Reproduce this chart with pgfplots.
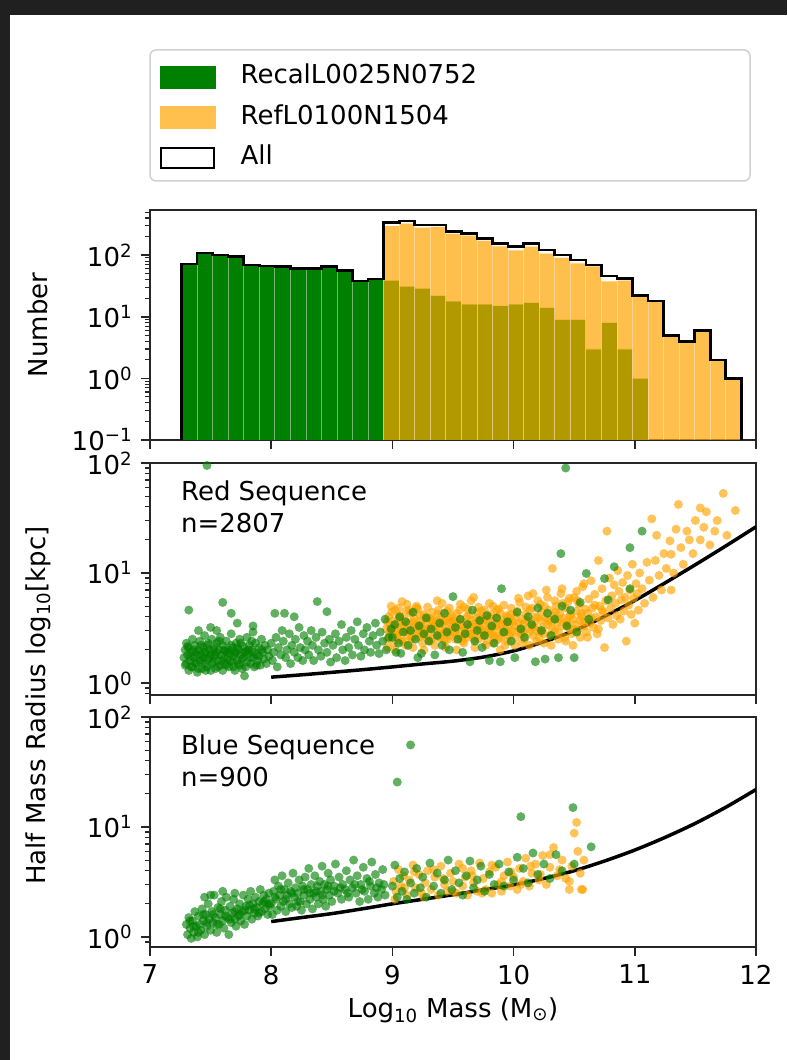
\documentclass[border=0pt]{standalone}
\usepackage{fontspec}
\setmainfont{DejaVu Sans}
\usepackage{pgfplots}
\pgfplotsset{compat=1.18}
\definecolor{mplgreen}{RGB}{0,128,0}
\definecolor{mplorange}{RGB}{255,165,0}
\definecolor{legorange}{RGB}{255,192,77}
\definecolor{bgdark}{RGB}{32,32,32}
\newcommand{\fs}{\fontsize{26}{32}\selectfont}
\pgfplotsset{
  every axis/.append style={
    scale only axis, width=606pt, xmin=7, xmax=12, ymode=log, log origin y=infty,
    xtick={7,8,9,10,11,12}, tick align=outside, xtick pos=bottom, ytick pos=left,
    axis line style={line width=1.6pt, black!85},
    major tick length=9pt, minor tick length=5pt,
    tick style={black!85}, major tick style={line width=1.6pt}, minor tick style={line width=1.1pt},
    tick label style={font=\fs}, label style={font=\fs},
    anchor=south west,
  },
  gdots/.style={only marks, color=mplgreen, mark=*, mark size=4.5pt, mark options={solid, fill=mplgreen, draw opacity=0, fill opacity=0.62}},
  odots/.style={only marks, color=mplorange, mark=*, mark size=4.5pt, mark options={solid, fill=mplorange, draw opacity=0, fill opacity=0.65}},
}
\begin{document}
\fs
\begin{tikzpicture}[x=1pt,y=1pt]
\fill[bgdark] (0,0) rectangle (787,1060);
\fill[white] (10,0) rectangle (787,1045);
\draw[black!18, line width=1.5pt, rounded corners=6pt, fill=white] (150,1010) rectangle (750,879);

% ---------------- histogram ----------------
\begin{axis}[at={(150pt,620pt)}, height=230pt, ymin=0.1, ymax=540,
  xticklabels={},
  ytick={0.1,1,10,100}, yticklabels={10\textsuperscript{−1},10\textsuperscript{0},10\textsuperscript{1},10\textsuperscript{2}},
  minor ytick={0.2,0.3,0.4,0.5,0.6,0.7,0.8,0.9,2,3,4,5,6,7,8,9,20,30,40,50,60,70,80,90,200,300,400,500},
  ylabel={Number}, ylabel style={at={(axis description cs:-0.185,0.5)}, anchor=center},
  legend style={at={(0.0165,1.632)}, anchor=north west, draw=none, fill=none, inner sep=0pt,
    font=\fs, row sep=16.5pt, column sep=25pt, nodes={inner sep=0pt, text height=19pt, text depth=5pt}},
  legend cell align=left]
\addplot[forget plot, ybar interval, fill=mplgreen, draw=white, draw opacity=0.45, line width=0.8pt]
 table[row sep=\\]{x y\\
7.2600 72\\ 7.3883 109\\ 7.5166 100\\ 7.6449 94\\ 7.7732 69\\ 7.9015 67\\ 8.0298 66\\ 8.1581 61\\
8.2864 61\\ 8.4147 65\\ 8.5430 56\\ 8.6713 38\\ 8.7996 41\\ 8.9279 39\\ 9.0562 31\\ 9.1845 29\\
9.3128 22\\ 9.4411 18\\ 9.5694 16\\ 9.6977 16\\ 9.8260 15\\ 9.9543 16\\ 10.0826 17\\ 10.2109 14\\
10.3392 9\\ 10.4675 9\\ 10.5958 3\\ 10.7241 8\\ 10.8524 3\\ 10.9807 1\\ 11.1090 1\\};
\addplot[forget plot, ybar interval, fill=mplorange, fill opacity=0.7, draw=white, draw opacity=0.35, line width=0.8pt]
 table[row sep=\\]{x y\\
8.9279 299\\ 9.0562 329\\ 9.1845 281\\ 9.3128 288\\ 9.4411 223\\ 9.5694 210\\ 9.6977 172\\ 9.8260 141\\
9.9543 121\\ 10.0826 139\\ 10.2109 107\\ 10.3392 91\\ 10.4675 74\\ 10.5958 66\\ 10.7241 38\\ 10.8524 39\\
10.9807 21\\ 11.1090 18\\ 11.2373 5\\ 11.3656 4\\ 11.4939 6\\ 11.6222 2\\ 11.7505 1\\ 11.8788 1\\};
\addplot[forget plot, const plot, black, line width=2.6pt] coordinates {
(7.2600,0.1) (7.2600,72) (7.3883,109) (7.5166,100) (7.6449,94) (7.7732,69) (7.9015,67) (8.0298,66)
(8.1581,61) (8.2864,61) (8.4147,65) (8.5430,56) (8.6713,38) (8.7996,41) (8.9279,338) (9.0562,360)
(9.1845,310) (9.3128,310) (9.4411,241) (9.5694,226) (9.6977,188) (9.8260,156) (9.9543,137) (10.0826,156)
(10.2109,121) (10.3392,100) (10.4675,83) (10.5958,69) (10.7241,46) (10.8524,42) (10.9807,22) (11.1090,18)
(11.2373,5) (11.3656,4) (11.4939,6) (11.6222,2) (11.7505,1) (11.8788,1) (11.8788,0.1)};
\addlegendimage{legend image code/.code={\fill[mplgreen] (0pt,-11pt) rectangle (55pt,11pt);}}
\addlegendentry{RecalL0025N0752}
\addlegendimage{legend image code/.code={\fill[legorange] (0pt,-11pt) rectangle (55pt,11pt);}}
\addlegendentry{RefL0100N1504}
\addlegendimage{legend image code/.code={\draw[black, line width=2pt] (1pt,-10pt) rectangle (54pt,10pt);}}
\addlegendentry{All}
\end{axis}

% ---------------- red sequence ----------------
\begin{axis}[at={(150pt,365pt)}, height=232pt, ymin=0.778, ymax=100,
  xticklabels={},
  ytick={1,10,100}, yticklabels={10\textsuperscript{0},10\textsuperscript{1},10\textsuperscript{2}},
  minor ytick={0.8,0.9,2,3,4,5,6,7,8,9,20,30,40,50,60,70,80,90},
  ylabel={Half Mass Radius log\textsubscript{10}[kpc]}, ylabel style={at={(axis description cs:-0.185,-0.045)}, anchor=center}]
\addplot[odots] coordinates {
(8.95,3.1) (8.96,2.5) (8.97,4.0) (8.98,3.4) (8.99,2.8) (9.00,3.7) (9.01,2.3) (9.02,4.6) (9.03,3.0) (9.04,2.6)
(9.05,3.5) (9.06,4.1) (9.07,2.9) (9.08,3.3) (9.09,2.4) (9.10,3.8) (9.11,3.0) (9.12,5.2) (9.13,2.7) (9.14,3.5)
(9.15,4.3) (9.16,2.5) (9.17,3.2) (9.18,3.9) (9.19,2.8) (9.20,3.4) (9.21,4.7) (9.22,2.6) (9.23,3.1) (9.24,3.7)
(9.25,2.3) (9.26,4.2) (9.27,3.0) (9.28,3.5) (9.29,2.7) (9.30,3.9) (9.31,3.2) (9.32,2.5) (9.33,4.4) (9.34,3.3)
(9.35,2.9) (9.36,3.6) (9.37,5.6) (9.38,2.6) (9.39,3.1) (9.40,4.0) (9.41,2.8) (9.42,3.4) (9.43,2.4) (9.44,3.7)
(9.45,4.5) (9.46,3.0) (9.47,2.7) (9.48,3.5) (9.49,4.1) (9.50,2.9)
(8.955,3.6) (8.975,2.9) (8.995,4.4) (9.015,3.2) (9.035,2.7) (9.055,3.9) (9.075,2.4) (9.095,3.3) (9.115,4.5)
(9.135,3.0) (9.155,2.6) (9.175,3.6) (9.195,4.8) (9.215,2.9) (9.235,3.4) (9.255,2.7) (9.275,4.0) (9.295,3.1)
(9.315,2.4) (9.335,3.7) (9.355,3.2) (9.375,4.2) (9.395,2.6) (9.415,3.6) (9.435,3.0) (9.455,2.5) (9.475,3.9) (9.495,3.3)
(9.51,3.6) (9.52,2.5) (9.53,4.3) (9.54,3.1) (9.55,2.7) (9.56,3.8) (9.57,3.3) (9.58,2.4) (9.59,4.9) (9.60,3.0)
(9.61,3.5) (9.62,2.6) (9.63,4.1) (9.64,3.2) (9.65,2.8) (9.66,3.7) (9.67,6.0) (9.68,2.9) (9.69,3.4) (9.70,4.4)
(9.71,2.5) (9.72,3.1) (9.73,3.8) (9.74,2.7) (9.75,3.3) (9.76,4.6) (9.77,3.0) (9.78,2.4) (9.79,3.6) (9.80,4.0)
(9.81,2.8) (9.82,3.2) (9.83,5.0) (9.84,2.6) (9.85,3.5) (9.86,3.9) (9.87,3.0) (9.88,2.5) (9.89,4.3) (9.90,3.4)
(9.91,2.9) (9.92,3.7) (9.93,2.2) (9.94,4.1) (9.95,3.2) (9.96,2.7) (9.97,3.6) (9.98,4.8) (9.99,3.0)
(9.515,2.9) (9.535,3.5) (9.555,4.6) (9.575,2.6) (9.595,3.2) (9.615,4.0) (9.635,2.8) (9.655,3.4) (9.675,2.5)
(9.695,3.9) (9.715,3.3) (9.735,4.5) (9.755,2.8) (9.775,3.7) (9.795,3.0) (9.815,4.2) (9.835,2.7) (9.855,3.3)
(9.875,4.7) (9.895,2.6) (9.915,3.5) (9.935,3.1) (9.955,4.0) (9.975,2.8) (9.995,3.6)
(10.01,3.3) (10.02,2.6) (10.03,4.5) (10.04,3.0) (10.05,5.4) (10.06,2.8) (10.07,3.8) (10.08,3.4) (10.09,2.5)
(10.10,4.2) (10.11,3.1) (10.12,6.2) (10.13,2.9) (10.14,3.6) (10.15,4.8) (10.16,2.7) (10.17,3.3) (10.18,4.0)
(10.19,3.0) (10.20,5.6) (10.21,2.6) (10.22,3.7) (10.23,4.4) (10.24,3.2) (10.25,2.8) (10.26,3.9) (10.27,7.0)
(10.28,3.4) (10.29,4.6) (10.30,2.7) (10.31,3.6) (10.32,11.0) (10.33,4.1) (10.34,3.0) (10.35,5.0) (10.36,3.5)
(10.37,2.9) (10.38,4.3) (10.39,6.5) (10.40,3.3) (10.41,3.9) (10.42,2.6) (10.43,4.8) (10.44,3.6) (10.45,5.5)
(10.46,3.1) (10.47,4.2) (10.48,2.8) (10.49,3.8) (10.50,6.0) (10.51,3.4) (10.52,4.5) (10.53,3.0) (10.54,5.2)
(10.55,3.7) (10.56,4.0) (10.57,7.5) (10.58,3.3) (10.59,4.7) (10.60,2.9)
(10.015,4.0) (10.045,3.5) (10.075,2.9) (10.105,3.7) (10.135,4.6) (10.165,3.2) (10.195,3.9) (10.225,2.9)
(10.255,5.0) (10.285,3.7) (10.315,3.1) (10.345,4.4) (10.375,3.8) (10.405,5.3) (10.435,3.4) (10.465,4.0)
(10.495,3.1) (10.525,5.6) (10.555,4.3) (10.585,3.6)
(8.96,2.1) (8.99,5.0) (9.02,2.0) (9.05,4.8) (9.08,5.5) (9.11,2.2) (9.14,4.6) (9.17,2.1) (9.20,5.0) (9.23,4.1)
(9.26,2.0) (9.29,4.9) (9.32,3.8) (9.35,2.2) (9.38,4.6) (9.41,5.3) (9.44,2.1) (9.47,4.8) (9.50,3.7) (9.53,2.0)
(9.56,5.2) (9.59,2.3) (9.62,4.7) (9.65,5.6) (9.68,2.1) (9.71,4.9) (9.74,3.9) (9.77,2.2) (9.80,5.3) (9.83,2.3)
(9.86,4.6) (9.89,2.0) (9.92,5.1) (9.95,2.4) (9.98,4.2) (10.01,2.2) (10.04,5.9) (10.07,2.3) (10.10,4.9) (10.13,2.2)
(10.16,6.5) (10.19,2.4) (10.22,5.2) (10.25,2.3) (10.28,6.0) (10.31,2.2) (10.34,5.6) (10.37,2.5) (10.40,7.2) (10.43,2.4)
(10.46,5.9) (10.49,2.2) (10.52,6.8) (10.55,2.6) (10.58,8.0) (10.61,2.6) (10.64,3.9) (10.67,5.1) (10.70,3.1) (10.73,4.6)
(10.61,4.3) (10.62,5.8) (10.63,3.5) (10.64,8.5) (10.65,4.8) (10.66,3.2) (10.67,6.4) (10.68,4.0) (10.69,2.8)
(10.70,13.0) (10.71,5.0) (10.72,3.7) (10.73,7.2) (10.74,4.4) (10.75,2.1) (10.76,5.6) (10.77,24.0) (10.78,3.9)
(10.79,9.0) (10.80,4.8) (10.81,6.2) (10.82,3.4) (10.83,7.8) (10.84,5.3) (10.85,4.1) (10.86,10.5) (10.87,6.8)
(10.88,3.8) (10.89,5.7) (10.90,8.2) (10.91,4.5) (10.92,6.0) (10.93,2.4) (10.94,9.5) (10.95,5.1) (10.96,7.0)
(10.97,4.2) (10.98,12.0) (10.99,5.9) (11.00,3.5) (11.01,8.0) (11.02,6.5) (11.03,4.6) (11.04,10.0)
(11.06,7.2) (11.08,5.3) (11.10,12.5) (11.12,8.6) (11.14,31.0) (11.15,6.0) (11.17,13.0) (11.18,22.0) (11.20,9.5)
(11.22,7.0) (11.24,15.0) (11.26,11.0) (11.29,19.6) (11.30,14.8) (11.30,7.0) (11.32,10.0) (11.34,25.0)
(11.36,42.0) (11.38,17.0) (11.40,12.0) (11.43,24.0) (11.45,20.0) (11.48,15.0) (11.50,30.0) (11.54,39.0)
(11.54,20.0) (11.57,26.0) (11.59,36.0) (11.62,18.0) (11.66,24.0) (11.68,30.0) (11.73,52.9) (11.76,22.0) (11.83,37.0)};
\addplot[gdots] coordinates {
(7.28,1.7) (7.29,2.0) (7.30,1.5) (7.30,2.3) (7.31,1.8) (7.32,1.3) (7.32,2.1) (7.33,1.6) (7.34,1.9) (7.35,2.5)
(7.35,1.4) (7.36,1.7) (7.37,2.2) (7.38,1.5) (7.38,1.9) (7.39,1.25) (7.40,2.0) (7.41,1.6) (7.41,2.4) (7.42,1.8)
(7.43,1.35) (7.44,2.1) (7.44,1.7) (7.45,1.5) (7.45,2.7)
(7.46,1.9) (7.47,1.4) (7.47,2.2) (7.48,1.65) (7.49,2.0) (7.50,1.3) (7.50,1.8) (7.51,2.5) (7.52,1.55) (7.53,2.1)
(7.53,1.75) (7.54,1.35) (7.55,2.3) (7.55,1.9) (7.56,1.6) (7.57,2.0) (7.58,1.45) (7.58,2.6) (7.59,1.8) (7.60,1.3)
(7.60,2.2) (7.61,1.7) (7.62,1.95) (7.62,1.5)
(7.63,2.4) (7.64,1.65) (7.65,2.0) (7.65,1.4) (7.66,1.85) (7.67,2.8) (7.68,1.55) (7.68,2.1) (7.69,1.75) (7.70,1.3)
(7.71,2.3) (7.71,1.9) (7.72,1.6) (7.73,2.0) (7.74,1.45) (7.74,2.5) (7.75,1.8) (7.76,1.35) (7.77,2.15) (7.77,1.7)
(7.78,1.16) (7.79,1.95) (7.80,1.55) (7.80,2.6)
(7.81,1.85) (7.82,2.2) (7.83,1.5) (7.84,2.0) (7.85,1.7) (7.85,2.9) (7.86,1.4) (7.87,2.3) (7.88,1.8) (7.89,1.6)
(7.90,2.1) (7.91,1.45) (7.92,2.5) (7.93,1.9) (7.94,1.65) (7.95,2.2) (7.96,1.5) (7.97,2.0) (7.98,1.75)
(7.29,1.45) (7.31,2.15) (7.33,1.75) (7.34,1.4) (7.36,2.0) (7.37,1.55) (7.39,1.8) (7.40,1.35) (7.42,2.2) (7.43,1.6)
(7.45,1.9) (7.46,1.3) (7.48,2.3) (7.49,1.7) (7.51,1.5) (7.52,2.0) (7.54,1.8) (7.56,1.4) (7.57,2.4) (7.59,1.6)
(7.61,2.0) (7.63,1.45) (7.64,1.9) (7.66,1.6) (7.67,2.2) (7.69,1.4) (7.70,1.85) (7.72,2.1) (7.73,1.5) (7.75,2.3)
(7.76,1.65) (7.78,1.9) (7.79,1.4) (7.81,2.0) (7.83,1.7) (7.84,2.4) (7.86,1.9) (7.88,1.45) (7.90,1.75) (7.92,2.0)
(7.32,4.6) (7.60,5.4) (7.67,4.3) (7.50,3.2) (7.72,3.5) (7.47,95) (7.40,3.0) (7.85,3.3) (7.55,3.0)
(8.00,2.3) (8.01,1.6) (8.02,1.9) (8.03,4.3) (8.04,2.6) (8.05,1.4) (8.06,2.1) (8.08,1.8) (8.09,3.0) (8.10,2.4)
(8.11,4.3) (8.12,1.7) (8.13,2.0) (8.15,2.8) (8.16,1.5) (8.17,2.2) (8.19,4.0) (8.19,1.9) (8.20,2.5) (8.22,1.7)
(8.23,3.2) (8.24,2.1) (8.26,1.6) (8.27,2.7) (8.28,2.0) (8.30,2.4) (8.31,1.8) (8.33,3.0) (8.34,2.2) (8.35,1.6)
(8.37,2.6) (8.38,5.5) (8.39,2.0) (8.41,1.75) (8.42,2.9) (8.44,2.3) (8.46,4.45) (8.46,1.9) (8.48,2.5) (8.49,1.55)
(8.51,2.2) (8.53,2.8) (8.54,1.7) (8.56,2.4) (8.58,3.4) (8.59,2.0) (8.61,1.6) (8.62,2.6) (8.64,2.1) (8.66,3.0)
(8.67,1.8) (8.69,2.5) (8.71,3.6) (8.72,2.2) (8.74,1.75) (8.76,2.8) (8.77,2.0) (8.79,3.2) (8.81,2.4) (8.82,1.9)
(8.84,2.7) (8.86,3.5) (8.87,2.2) (8.89,1.85) (8.90,2.9) (8.92,2.4) (8.94,3.8) (8.95,2.0) (8.97,2.6) (8.99,3.1)
(9.00,2.6) (9.02,3.4) (9.03,1.9) (9.05,2.3) (9.06,4.0) (9.07,1.86) (9.09,2.9) (9.11,3.6) (9.13,2.2) (9.15,3.0)
(9.17,4.4) (9.19,2.5) (9.21,1.7) (9.22,3.3) (9.24,1.86) (9.26,2.8) (9.28,3.9) (9.30,2.4) (9.32,3.1) (9.35,1.8)
(9.37,2.7) (9.39,3.5) (9.41,2.2) (9.43,4.3) (9.45,2.9) (9.47,2.0) (9.50,6.1) (9.52,3.2) (9.54,2.5) (9.56,3.8)
(9.58,1.9) (9.60,2.8) (9.62,3.4) (9.64,1.56) (9.66,4.6) (9.68,2.4) (9.70,3.0) (9.72,3.7) (9.74,2.1) (9.76,2.7)
(9.78,4.1) (9.80,1.6) (9.82,3.3) (9.84,2.3) (9.86,3.9) (9.89,1.56) (9.90,7.2) (9.92,2.9) (9.95,3.6) (9.98,2.4)
(10.01,1.7) (10.03,4.4) (10.06,3.1) (10.09,2.6) (10.12,4.0) (10.15,3.4) (10.18,1.56) (10.20,4.8) (10.23,3.0)
(10.26,1.65) (10.28,4.3) (10.31,2.7) (10.34,3.8) (10.37,1.7) (10.39,15.0) (10.40,5.0) (10.43,90.0) (10.44,3.3)
(10.47,4.6) (10.50,1.7) (10.52,2.9) (10.55,5.4) (10.60,9.9) (10.62,3.8) (10.75,8.9) (10.78,5.7) (10.83,11.4)
(10.96,7.2) (10.96,17.0) (11.06,24.0)};
\addplot[black, line width=3.5pt, smooth] coordinates {
(8.0,1.13) (8.25,1.186) (8.5,1.25) (8.75,1.32) (9.0,1.40) (9.25,1.49) (9.5,1.58) (9.75,1.72) (10.0,1.96)
(10.25,2.37) (10.5,2.99) (10.75,4.03) (11.0,5.62) (11.25,8.13) (11.5,11.9) (11.75,17.6) (12.0,26.3)};
\node[anchor=north west, align=left, inner sep=0pt, font=\fs] at (axis description cs:0.051,0.925) {Red Sequence\\n=2807};
\end{axis}

% ---------------- blue sequence ----------------
\begin{axis}[at={(150pt,113pt)}, height=230pt, ymin=0.81, ymax=100,
  xticklabels={7,8,9,10,11,12},
  ytick={1,10,100}, yticklabels={10\textsuperscript{0},10\textsuperscript{1},10\textsuperscript{2}},
  minor ytick={0.9,2,3,4,5,6,7,8,9,20,30,40,50,60,70,80,90},
  xlabel={Log\textsubscript{10} Mass (M\textsubscript{⊙})}, xlabel style={at={(axis description cs:0.5,-0.274)}, anchor=center}]
\addplot[odots] coordinates {
(9.01,3.2) (9.03,2.6) (9.05,4.1) (9.07,2.9) (9.09,3.6) (9.12,2.4) (9.14,3.3) (9.17,4.5) (9.19,2.8) (9.22,3.7)
(9.24,2.5) (9.27,3.1) (9.29,4.0) (9.32,2.7) (9.35,3.5) (9.38,2.4) (9.40,4.4) (9.43,3.0) (9.45,2.6) (9.48,3.8)
(9.50,3.2) (9.53,2.5) (9.55,4.6) (9.58,2.9) (9.60,3.5) (9.62,2.4) (9.65,4.0) (9.67,3.1) (9.70,2.6) (9.72,4.7)
(9.75,3.4) (9.77,2.7) (9.80,3.9) (9.82,2.5) (9.85,4.3) (9.87,3.0) (9.90,2.6) (9.92,3.6) (9.95,4.8) (9.97,2.9)
(10.00,3.5) (10.03,2.7) (10.05,4.2) (10.08,3.2) (10.10,5.2) (10.13,2.9) (10.15,3.8) (10.18,4.6) (10.21,3.3)
(10.24,5.5) (10.27,3.0) (10.30,4.3) (10.33,6.5) (10.36,3.6) (10.40,5.0) (10.43,3.4) (10.46,2.7) (10.48,4.4)
(10.50,8.8) (10.52,11.0) (10.53,6.0) (10.55,3.8) (10.56,2.7) (10.58,5.0)
(9.02,2.2) (9.10,2.8) (9.18,3.9) (9.26,2.3) (9.34,4.1) (9.42,3.4) (9.50,2.6) (9.58,4.2) (9.66,3.6) (9.74,2.5)
(9.82,4.5) (9.90,3.2) (9.98,3.9) (10.06,3.0) (10.14,4.4) (10.22,3.7) (10.30,5.6) (10.38,4.1) (10.46,3.2) (10.57,2.7)};
\addplot[gdots] coordinates {
(7.30,1.3) (7.31,1.05) (7.32,1.5) (7.33,1.2) (7.34,0.97) (7.35,1.4) (7.36,1.1) (7.37,1.7) (7.38,1.25) (7.39,1.0)
(7.40,1.55) (7.41,1.3) (7.42,1.15) (7.43,1.8) (7.44,1.4) (7.45,1.05) (7.46,1.6) (7.47,1.25) (7.48,2.0) (7.49,1.45)
(7.50,1.15) (7.51,1.7) (7.52,1.35) (7.53,2.4) (7.54,1.5) (7.55,1.1) (7.56,1.85) (7.57,1.3) (7.58,1.6) (7.59,2.1)
(7.60,1.4) (7.61,1.2) (7.62,1.75) (7.63,2.3) (7.64,1.5) (7.65,1.05) (7.66,1.9) (7.67,1.35) (7.68,1.65) (7.69,2.2)
(7.70,1.45) (7.71,1.25) (7.72,1.8) (7.73,1.55) (7.74,2.0) (7.75,1.4) (7.76,1.7) (7.77,2.4) (7.78,1.3) (7.79,1.9)
(7.80,1.55) (7.81,2.2) (7.82,1.75) (7.83,2.6) (7.84,1.45) (7.85,2.0) (7.86,1.65) (7.87,2.3) (7.88,1.85) (7.89,1.55)
(7.90,2.1) (7.91,2.7) (7.92,1.7) (7.93,2.0) (7.94,2.4) (7.95,1.8) (7.96,2.2) (7.97,1.6) (7.98,2.5) (7.99,1.9)
(7.50,2.4) (7.60,2.6) (7.70,2.5) (7.45,2.3)
(7.33,1.4) (7.36,1.25) (7.40,1.1) (7.44,1.6) (7.47,1.35) (7.52,1.6) (7.55,1.3) (7.58,1.8) (7.62,1.55) (7.66,1.45)
(7.70,1.7) (7.74,1.6) (7.78,1.75) (7.82,1.95) (7.86,1.8) (7.90,1.65) (7.94,2.1) (7.98,2.0)
(8.03,2.3) (8.08,2.7) (8.12,2.2) (8.17,2.5) (8.22,2.1) (8.27,2.7) (8.32,2.5) (8.37,2.6) (8.42,2.4) (8.47,2.9)
(8.52,2.6) (8.57,2.8) (8.63,2.5) (8.69,3.0) (8.75,2.7) (8.81,3.2) (8.87,2.8) (8.93,3.0)
(8.00,2.0) (8.01,1.6) (8.02,2.6) (8.03,3.3) (8.04,2.2) (8.05,1.75) (8.06,2.9) (8.07,2.4) (8.08,1.9) (8.09,3.6)
(8.10,2.1) (8.11,2.7) (8.12,1.7) (8.13,2.4) (8.14,3.1) (8.15,2.0) (8.16,2.6) (8.17,1.85) (8.18,3.8) (8.19,2.3)
(8.20,2.8) (8.21,1.9) (8.22,2.5) (8.23,3.3) (8.24,2.1) (8.25,1.75) (8.26,2.9) (8.27,2.4) (8.28,3.5) (8.29,2.0)
(8.30,2.7) (8.31,4.2) (8.32,2.2) (8.33,3.0) (8.34,1.8) (8.35,2.5) (8.36,3.6) (8.37,2.3) (8.38,2.9) (8.39,2.0)
(8.40,3.2) (8.41,2.6) (8.42,4.4) (8.43,2.2) (8.44,3.0) (8.45,1.9) (8.46,2.7) (8.47,3.8) (8.48,2.4) (8.49,3.3)
(8.50,2.1) (8.52,2.9) (8.53,4.6) (8.55,2.5) (8.56,3.5) (8.58,2.2) (8.59,3.0) (8.61,2.7) (8.62,4.0) (8.64,2.3)
(8.65,3.3) (8.67,2.8) (8.68,5.0) (8.70,2.5) (8.71,3.6) (8.73,2.1) (8.74,3.0) (8.76,4.3) (8.77,2.6) (8.79,3.4)
(8.80,2.2) (8.82,2.9) (8.83,4.8) (8.85,2.5) (8.86,3.7) (8.88,2.3) (8.89,3.1) (8.91,2.7) (8.92,4.1) (8.94,2.4)
(9.00,2.9) (9.02,4.5) (9.04,2.3) (9.04,25.6) (9.06,3.4) (9.08,2.6) (9.10,3.9) (9.12,2.2) (9.15,55.7) (9.15,3.1)
(9.18,2.5) (9.20,4.2) (9.23,2.8) (9.25,3.5) (9.28,2.3) (9.31,4.7) (9.34,2.9) (9.37,3.8) (9.40,2.5) (9.43,3.3)
(9.46,5.0) (9.49,2.7) (9.52,4.0) (9.55,3.1) (9.58,2.4) (9.61,3.6) (9.64,4.9) (9.67,2.8) (9.70,3.3) (9.73,4.4)
(9.76,2.6) (9.80,3.7) (9.84,3.0) (9.88,4.6) (9.92,2.9) (9.96,3.9) (10.00,3.3) (10.03,5.3) (10.06,12.4) (10.08,4.2)
(10.12,3.1) (10.16,5.8) (10.20,3.7) (10.25,4.6) (10.30,3.4) (10.35,5.6) (10.40,4.0) (10.49,15.0) (10.50,4.6) (10.64,6.6)};
\addplot[black, line width=3.5pt, smooth] coordinates {
(8.0,1.38) (8.25,1.5) (8.5,1.63) (8.75,1.8) (9.0,2.0) (9.25,2.2) (9.5,2.42) (9.75,2.68) (10.0,2.97)
(10.25,3.4) (10.5,4.0) (10.75,4.9) (11.0,6.17) (11.25,8.04) (11.5,10.8) (11.75,15.1) (12.0,21.9)};
\node[anchor=north west, align=left, inner sep=0pt, font=\fs] at (axis description cs:0.051,0.925) {Blue Sequence\\n=900};
\end{axis}
\end{tikzpicture}
\end{document}
